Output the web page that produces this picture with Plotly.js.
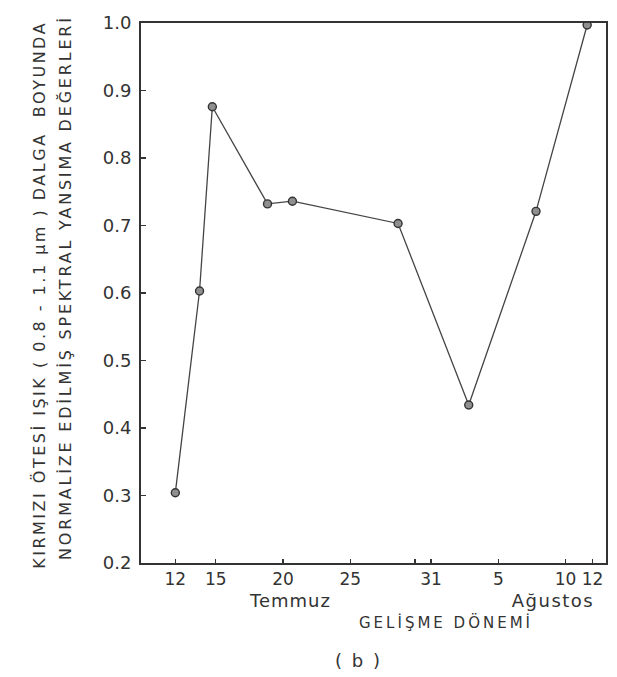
<!DOCTYPE html>
<html>
<head>
<meta charset="utf-8">
<script src="https://cdn.plot.ly/plotly-3.0.1.min.js"></script>
<style>
  html, body { margin: 0; padding: 0; background: #fff; }
  #chart { width: 617px; height: 677px; }
  g.annotation[data-index="0"] text { letter-spacing: 2.5px; }
  g.annotation[data-index="1"] text { letter-spacing: 2.8px; }
  g.annotation[data-index="2"] text { letter-spacing: 3px; }
  g.annotation[data-index="3"] text { letter-spacing: 1px; }
  g.annotation[data-index="4"] text { letter-spacing: 1.5px; }
  g.annotation[data-index="5"] text { letter-spacing: 2px; }
</style>
</head>
<body>
<div id="chart"></div>
<script>
// Day index: July d -> d, August d -> 31 + d
const days = [12, 13.8, 14.75, 18.85, 20.7, 28.55, 33.8, 38.8, 42.6];
const reflectance = [0.304, 0.603, 0.876, 0.732, 0.736, 0.703, 0.434, 0.721, 0.997];

const xTickVals = [12, 15, 20, 25, 29.8, 31, 36, 41, 43];
const xTickText = ['12', '15', '20', '25', '', '31', '5', '10', '12'];
const yTickVals = [0.2, 0.3, 0.4, 0.5, 0.6, 0.7, 0.8, 0.9, 1.0];
const yTickText = ['0.2', '0.3', '0.4', '0.5', '0.6', '0.7', '0.8', '0.9', '1.0'];

const yTitleLines = [
  'KIRMIZI ÖTESİ IŞIK ( 0.8 - 1.1 μm ) DALGA  BOYUNDA',
  'NORMALİZE EDİLMİŞ SPEKTRAL YANSIMA DEĞERLERİ'
];
const xTitle = 'GELİŞME DÖNEMİ';
const monthLabels = ['Temmuz', 'Ağustos'];
const panelLabel = '( b )';

const ink = '#333333';
const fontFam = 'DejaVu Sans, sans-serif';

const trace = {
  x: days,
  y: reflectance,
  type: 'scatter',
  mode: 'lines+markers',
  line: { color: '#444444', width: 1.3 },
  marker: { size: 8, color: '#8f8f8f', line: { color: '#333333', width: 1.4 } },
  hoverinfo: 'skip',
  showlegend: false
};

const layout = {
  width: 617,
  height: 677,
  margin: { l: 141, r: 11, t: 23, b: 114 },
  paper_bgcolor: '#ffffff',
  plot_bgcolor: '#ffffff',
  font: { family: fontFam, color: ink },
  xaxis: {
    range: [9.45, 44.0],
    tickmode: 'array',
    tickvals: xTickVals,
    ticktext: xTickText,
    ticks: 'inside',
    ticklen: 4,
    tickwidth: 1.5,
    tickcolor: ink,
    showline: true,
    mirror: true,
    linecolor: ink,
    linewidth: 2,
    showgrid: false,
    zeroline: false,
    tickfont: { size: 17, family: fontFam, color: ink }
  },
  yaxis: {
    range: [0.2, 1.0],
    tickmode: 'array',
    tickvals: yTickVals,
    ticktext: yTickText,
    ticks: 'inside',
    ticklen: 5,
    tickwidth: 1.5,
    tickcolor: ink,
    showline: true,
    mirror: true,
    linecolor: ink,
    linewidth: 2,
    showgrid: false,
    zeroline: false,
    ticklabelstandoff: 4,
    tickfont: { size: 18, family: fontFam, color: ink }
  },
  annotations: [
    {
      text: yTitleLines[0],
      xref: 'paper', yref: 'paper',
      x: -0.219, y: 0.496,
      xanchor: 'center', yanchor: 'middle',
      textangle: -90,
      showarrow: false,
      font: { size: 16, family: fontFam, color: ink }
    },
    {
      text: yTitleLines[1],
      xref: 'paper', yref: 'paper',
      x: -0.163, y: 0.509,
      xanchor: 'center', yanchor: 'middle',
      textangle: -90,
      showarrow: false,
      font: { size: 16, family: fontFam, color: ink }
    },
    {
      text: xTitle,
      xref: 'paper', yref: 'paper',
      x: 0.656, y: -0.111,
      xanchor: 'center', yanchor: 'middle',
      showarrow: false,
      font: { size: 15, family: fontFam, color: ink }
    },
    {
      text: monthLabels[0],
      xref: 'paper', yref: 'paper',
      x: 0.320, y: -0.069,
      xanchor: 'center', yanchor: 'middle',
      showarrow: false,
      font: { size: 18, family: fontFam, color: ink }
    },
    {
      text: monthLabels[1],
      xref: 'paper', yref: 'paper',
      x: 0.886, y: -0.069,
      xanchor: 'center', yanchor: 'middle',
      showarrow: false,
      font: { size: 18, family: fontFam, color: ink }
    },
    {
      text: panelLabel,
      xref: 'paper', yref: 'paper',
      x: 0.467, y: -0.180,
      xanchor: 'center', yanchor: 'middle',
      showarrow: false,
      font: { size: 18, family: fontFam, color: ink }
    }
  ]
};

Plotly.newPlot('chart', [trace], layout, { staticPlot: true, displayModeBar: false });
</script>
</body>
</html>
